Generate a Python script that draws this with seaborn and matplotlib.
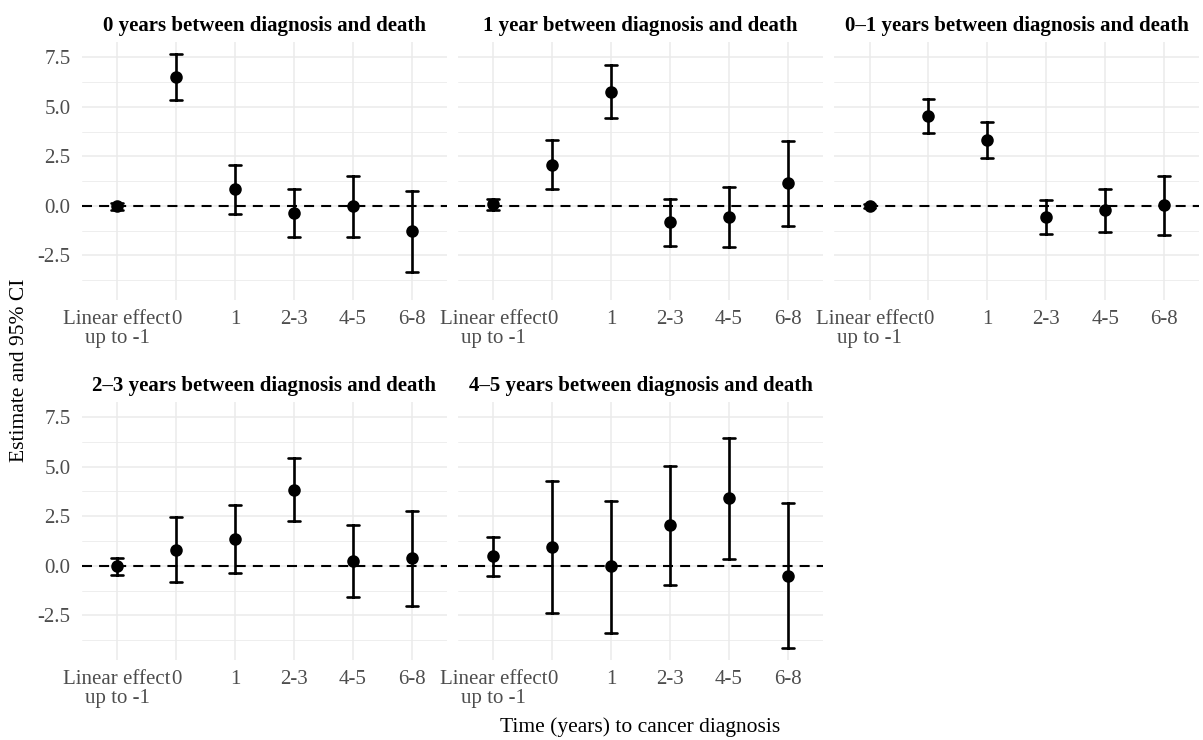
# Event-study style estimates with 95% CI, one panel per diagnosis-to-death group
import numpy as np
import pandas as pd
import matplotlib
matplotlib.use("Agg")
import matplotlib.pyplot as plt
import seaborn as sns
from matplotlib.ticker import MultipleLocator, FormatStrFormatter

# Data
categories = ["Linear effect\nup to -1", "0", "1", "2-3", "4-5", "6-8"]
panels = [
    "0 years between diagnosis and death",
    "1 year between diagnosis and death",
    "0\u20131 years between diagnosis and death",
    "2\u20133 years between diagnosis and death",
    "4\u20135 years between diagnosis and death",
]

est_0y = [-0.03, 6.50, 0.83, -0.37, -0.03, -1.28]
lo_0y = [-0.20, 5.33, -0.40, -1.57, -1.57, -3.33]
hi_0y = [0.15, 7.67, 2.08, 0.83, 1.52, 0.77]

est_1y = [0.10, 2.08, 5.77, -0.82, -0.57, 1.13]
lo_1y = [-0.20, 0.83, 4.45, -2.03, -2.07, -1.00]
hi_1y = [0.33, 3.30, 7.10, 0.37, 0.93, 3.25]

est_01y = [0.00, 4.55, 3.33, -0.57, -0.23, 0.02]
lo_01y = [-0.13, 3.68, 2.43, -1.40, -1.32, -1.48]
hi_01y = [0.10, 5.38, 4.22, 0.28, 0.83, 1.50]

est_23y = [-0.03, 0.82, 1.35, 3.83, 0.22, 0.37]
lo_23y = [-0.47, -0.80, -0.37, 2.25, -1.60, -2.05]
hi_23y = [0.37, 2.45, 3.08, 5.42, 2.07, 2.75]

est_45y = [0.48, 0.95, -0.03, 2.05, 3.40, -0.50]
lo_45y = [-0.52, -2.37, -3.37, -0.98, 0.32, -4.17]
hi_45y = [1.47, 4.28, 3.27, 5.05, 6.47, 3.18]

estimates = [est_0y, est_1y, est_01y, est_23y, est_45y]
lowers = [lo_0y, lo_1y, lo_01y, lo_23y, lo_45y]
uppers = [hi_0y, hi_1y, hi_01y, hi_23y, hi_45y]

# long table: lower / estimate / upper rows, median gives the estimate,
# min/max give the interval
rows = []
for p, est, lo, hi in zip(panels, estimates, lowers, uppers):
    for c, e, l, h in zip(categories, est, lo, hi):
        for v in (l, e, h):
            rows.append({"panel": p, "time": c, "value": v})
df = pd.DataFrame(rows)

sns.set_theme(style="white")
plt.rcParams["font.family"] = ["Liberation Serif", "DejaVu Serif"]
plt.rcParams["axes.unicode_minus"] = False

g = sns.catplot(
    data=df, x="time", y="value", col="panel", col_wrap=3,
    col_order=panels, order=categories, kind="point",
    estimator="median", errorbar=lambda v: (v.min(), v.max()),
    color="black", linestyle="none", markersize=7, capsize=0.2,
    err_kws={"linewidth": 1.9},
    height=3, aspect=1.3,
)
g.set_axis_labels("", "")

fig = g.figure
fig.set_size_inches(12.03, 7.40)
fig.subplots_adjust(left=0.068, right=0.997, top=0.943, bottom=0.108,
                    wspace=0.03, hspace=0.395)

for name, ax in g.axes_dict.items():
    ax.set_title(name, fontweight="bold", fontsize=15, color="black", pad=8)
    ax.set_xlim(-0.6, 5.6)
    ax.set_ylim(-4.76, 8.26)
    ax.yaxis.set_major_locator(MultipleLocator(2.5))
    ax.yaxis.set_minor_locator(MultipleLocator(1.25))
    ax.yaxis.set_major_formatter(FormatStrFormatter("%.1f"))
    ax.grid(which="major", color="#EBEBEB", linewidth=1.1)
    ax.grid(which="minor", axis="y", color="#EBEBEB", linewidth=0.6)
    ax.set_axisbelow(True)
    for s in ax.spines.values():
        s.set_visible(False)
    ax.axhline(0, color="black", linewidth=1.5, linestyle=(0, (4.8, 3.4)), zorder=1.5)
    ax.tick_params(axis="both", which="both", length=0, labelsize=15,
                   labelcolor="#4D4D4D")
    ax.tick_params(axis="x", pad=7, labelbottom=True)
    ax.tick_params(axis="y", pad=8)
    for lab in ax.get_xticklabels():
        lab.set_linespacing(1.0)

fig.text(0.016, 0.5, "Estimate and 95% CI", rotation=90, va="center", ha="center",
         fontsize=15.5, color="black")
fig.text(0.532, 0.018, "Time (years) to cancer diagnosis", va="center", ha="center",
         fontsize=15.5, color="black")

fig.savefig("out.png", dpi=100)
